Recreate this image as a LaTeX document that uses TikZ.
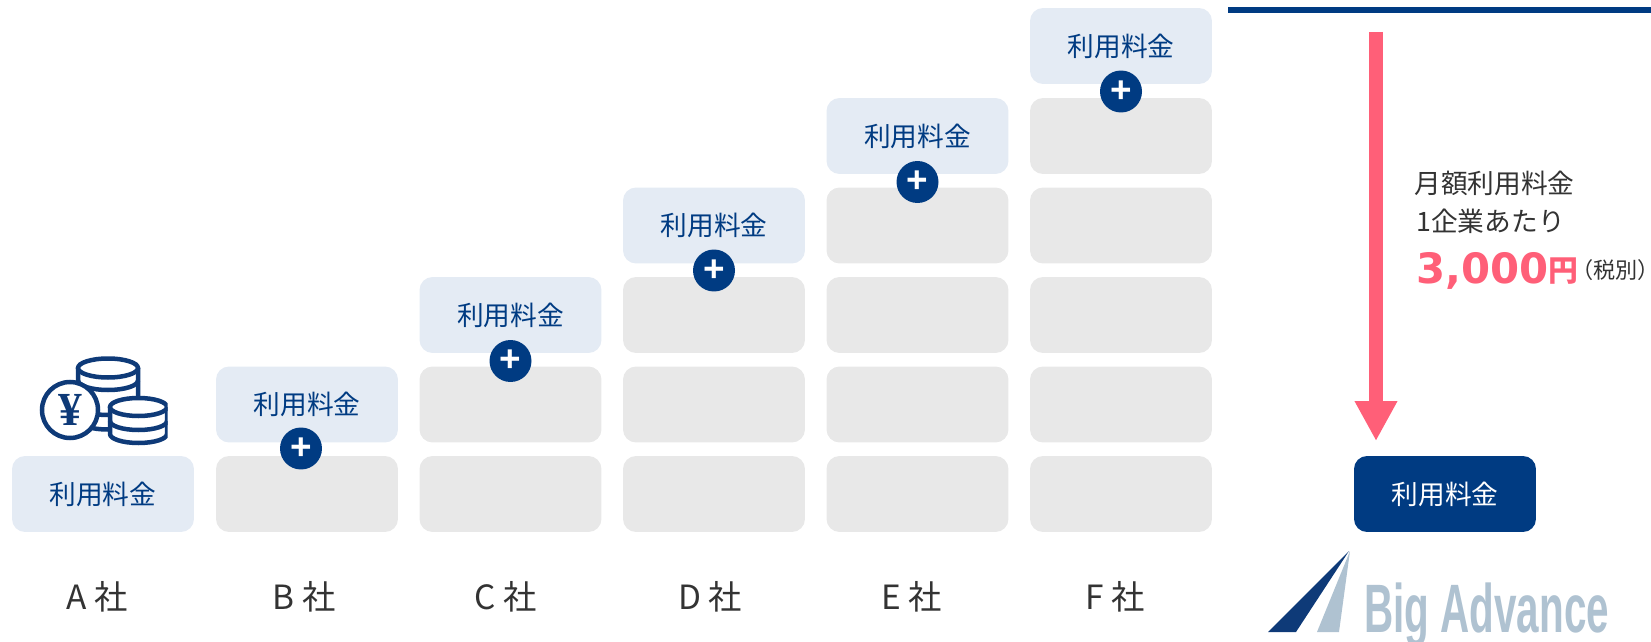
\documentclass[tikz,border=0pt]{standalone}
\usepackage{fontspec}
\setmainfont{Noto Sans CJK JP}
\newfontfamily\numfont{DejaVu Sans}
\newfontfamily\logofont{Liberation Sans}
\newfontfamily\yenfont{Liberation Serif}
\usetikzlibrary{arrows.meta}
\definecolor{navy}{HTML}{003B82}
\definecolor{palenavy}{HTML}{E4EBF4}
\definecolor{boxgrey}{HTML}{E8E8E8}
\definecolor{feepink}{HTML}{FF5F78}
\definecolor{inkgrey}{HTML}{333333}
\definecolor{logoblue}{HTML}{AFC2D1}
\definecolor{logonavy}{HTML}{0E3A78}
\tikzset{
  feebox/.style={rounded corners=0.26cm,minimum width=3.64cm,minimum height=1.52cm,inner sep=0pt,outer sep=0pt},
  greybox/.style={feebox,fill=boxgrey},
  palebox/.style={feebox,fill=palenavy,text=navy,font=\fontsize{15.2}{18}\selectfont},
  plusdot/.style={circle,fill=navy,text=white,minimum size=0.84cm,inner sep=0pt,font=\logofont\fontsize{21}{21}\selectfont\bfseries},
  firmlabel/.style={text=inkgrey,font=\fontsize{19}{22}\selectfont},
  coinline/.style={draw=logonavy,line width=0.09cm,fill=white},
  coinarc/.style={draw=logonavy,line width=0.09cm}
}
\begin{document}
\begin{tikzpicture}[x=0.02cm,y=-0.02cm]
  \useasboundingbox (0,0) rectangle (1651,642);

  % Riquadri grigi
  \node[greybox] (b1) at (307,494) {};
  \node[greybox] (c1) at (510.5,494) {};
  \node[greybox] (c2) at (510.5,404.5) {};
  \node[greybox] (d1) at (714,494) {};
  \node[greybox] (d2) at (714,404.5) {};
  \node[greybox] (d3) at (714,315) {};
  \node[greybox] (e1) at (917.5,494) {};
  \node[greybox] (e2) at (917.5,404.5) {};
  \node[greybox] (e3) at (917.5,315) {};
  \node[greybox] (e4) at (917.5,225.5) {};
  \node[greybox] (f1) at (1121,494) {};
  \node[greybox] (f2) at (1121,404.5) {};
  \node[greybox] (f3) at (1121,315) {};
  \node[greybox] (f4) at (1121,225.5) {};
  \node[greybox] (f5) at (1121,136) {};

  % Riquadri chiari
  \node[palebox] (feea) at (103,494) {利用料金};
  \node[palebox] (feeb) at (307,404.5) {利用料金};
  \node[palebox] (feec) at (510.5,315) {利用料金};
  \node[palebox] (feed) at (714,225.5) {利用料金};
  \node[palebox] (feee) at (917.5,136) {利用料金};
  \node[palebox] (feef) at (1121,46) {利用料金};

  % Segni piu
  \node[plusdot] (plusb) at (301,448.5) {+};
  \node[plusdot] (plusc) at (510.5,361) {+};
  \node[plusdot] (plusd) at (714,270.5) {+};
  \node[plusdot] (pluse) at (917.5,182) {+};
  \node[plusdot] (plusf) at (1121,91.5) {+};

  % Etichette
  \node[firmlabel] (firma) at (97,597) {A 社};
  \node[firmlabel] (firmb) at (304,597) {B 社};
  \node[firmlabel] (firmc) at (506,597) {C 社};
  \node[firmlabel] (firmd) at (710,597) {D 社};
  \node[firmlabel] (firme) at (912,597) {E 社};
  \node[firmlabel] (firmf) at (1115,597) {F 社};

  % Monete
  \draw[coinline] (78,368) -- (78,420) arc[start angle=180,end angle=0,x radius=30,y radius=9.5] -- (138,368);
  \draw[coinarc] (78,380.5) arc[start angle=180,end angle=0,x radius=30,y radius=9.5];
  \draw[coinarc] (78,405.5) arc[start angle=180,end angle=0,x radius=30,y radius=9.5];
  \draw[coinline] (108,368) ellipse (30 and 9.5);
  \begin{scope}
    \clip (100,390) rectangle (167.5,450);
    \draw[coinline] (110,407) -- (110,434) arc[start angle=180,end angle=0,x radius=28.5,y radius=9] -- (167,407);
    \draw[coinarc] (110,421) arc[start angle=180,end angle=0,x radius=28.5,y radius=9];
    \draw[coinline] (138.5,407) ellipse (28.5 and 9);
  \end{scope}
  \draw[coinline] (70,410) circle (28);
  \node[text=logonavy,font=\yenfont\fontsize{27}{27}\selectfont\bfseries,inner sep=0pt] (yen) at (70,410) {¥};

  % Colonna destra
  \coordinate (ruleleft) at (1228,10);
  \coordinate (ruleright) at (1651,10);
  \draw[navy,line width=0.12cm] (ruleleft) -- (ruleright);
  \coordinate (arrowtop) at (1376,32);
  \node[feebox,fill=navy,text=white,font=\fontsize{15.2}{18}\selectfont] (total) at (1445,494) {利用料金};
  \draw[feepink,line width=0.28cm,-{Triangle[length=0.8cm,width=0.8cm]},shorten >=0.3cm] (arrowtop) -- (arrowtop |- total.north);

  % Testo del prezzo
  \node[anchor=west,text=inkgrey,font=\fontsize{15.2}{18}\selectfont,inner sep=0pt] (monthly) at (1414,183) {月額利用料金};
  \node[anchor=west,text=inkgrey,font=\fontsize{15.2}{18}\selectfont,inner sep=0pt] (perfirm) at (1416,221) {1企業あたり};
  \node[anchor=west,text=feepink,font=\numfont\fontsize{23.8}{28}\selectfont\bfseries,inner sep=0pt] (price) at (1416,271) {3,000};
  \node[anchor=west,text=feepink,font=\fontsize{17}{20}\selectfont\bfseries,inner sep=0pt] (yenunit) at (1548,271) {円};
  \node[anchor=west,text=inkgrey,font=\fontsize{12.6}{14}\selectfont,inner sep=0pt] (taxnote) at (1571,270) {（税別）\hspace{-0.5em}};

  % Logo
  \fill[logonavy] (1349,551) -- (1296,632) -- (1268,632) -- cycle;
  \fill[logoblue] (1350,551) -- (1339,632) -- (1317,632) -- cycle;
  \node[anchor=base west,text=logoblue,inner sep=0pt,xscale=0.59,font=\logofont\fontsize{39}{39}\selectfont\bfseries] (bigadvance) at (1364,632) {Big Advance};
\end{tikzpicture}
\end{document}
